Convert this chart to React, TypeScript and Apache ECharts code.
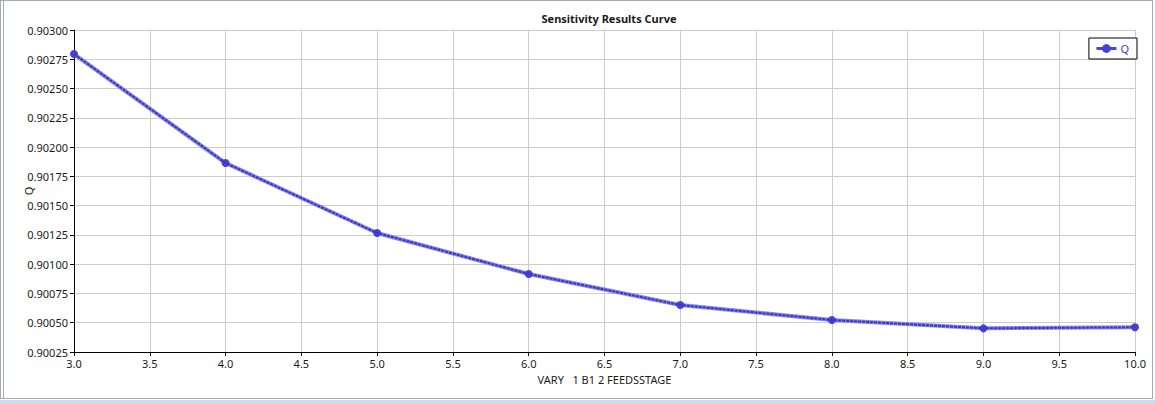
import React, { useEffect, useRef } from "react";
import * as echarts from "echarts";

const feedStages = [3, 4, 5, 6, 7, 8, 9, 10];
const qValues = [0.902795, 0.901864, 0.901266, 0.900916, 0.900651, 0.900523, 0.900452, 0.900461];
const titleText = "Sensitivity Results Curve";
const xName = "VARY   1 B1 2 FEEDSSTAGE";
const yName = "Q";
const seriesName = "Q";

export default function App() {
  const ref = useRef<HTMLDivElement>(null);
  useEffect(() => {
    if (!ref.current) return;
    const chart = echarts.init(ref.current, null, { renderer: "svg" });
    const font = "'Noto Sans', 'Open Sans', sans-serif";
    const frame = "#a3abb6";
    chart.setOption({
      animation: false,
      backgroundColor: "#ffffff",
      textStyle: { fontFamily: font },
      title: {
        text: titleText,
        left: 604,
        textAlign: "center",
        top: 8,
        textStyle: { fontSize: 11, fontWeight: "bold", color: "#1a1a1a", fontFamily: font },
      },
      legend: {
        data: [seriesName],
        right: 18,
        top: 38,
        orient: "vertical",
        backgroundColor: "#ffffff",
        borderColor: "#000000",
        borderWidth: 1,
        borderRadius: 0,
        padding: [5, 8, 5, 6],
        itemWidth: 20,
        itemHeight: 11,
        itemGap: 4,
        lineStyle: { width: 3, color: "#4848d4" },
        textStyle: { color: "#3a3ad0", fontSize: 11, fontFamily: font, padding: [0, 0, 0, -1] },
      },
      grid: { left: 74, right: 20, top: 30, bottom: 52, containLabel: false },
      xAxis: {
        type: "value",
        min: 3,
        max: 10,
        interval: 0.5,
        name: xName,
        nameLocation: "middle",
        nameGap: 22,
        nameTextStyle: { fontSize: 11, color: "#1a1a1a", fontFamily: font },
        axisLine: { show: true, lineStyle: { color: "#000000", width: 1 } },
        axisTick: { show: true, length: 4, lineStyle: { color: "#000000" } },
        axisLabel: {
          fontSize: 11,
          color: "#1a1a1a",
          margin: 6,
          formatter: (v: number) => v.toFixed(1),
        },
        splitLine: { show: true, lineStyle: { color: "#cccccc", width: 1 } },
      },
      yAxis: {
        type: "value",
        min: 0.90025,
        max: 0.903,
        interval: 0.00025,
        name: yName,
        nameLocation: "middle",
        nameGap: 40,
        nameMoveOverlap: false,
        nameRotate: 90,
        nameTextStyle: { fontSize: 11, color: "#1a1a1a", fontFamily: font },
        axisLine: { show: true, lineStyle: { color: "#000000", width: 1 } },
        axisTick: { show: true, length: 4, lineStyle: { color: "#000000" } },
        axisLabel: {
          fontSize: 11,
          color: "#1a1a1a",
          margin: 6,
          formatter: (v: number) => v.toFixed(5),
        },
        splitLine: { show: true, lineStyle: { color: "#cccccc", width: 1 } },
      },
      series: [
        {
          name: seriesName,
          type: "line",
          data: feedStages.map((x, i) => [x, qValues[i]]),
          symbol: "circle",
          symbolSize: 8,
          showSymbol: true,
          itemStyle: { color: "#4444d2" },
          lineStyle: { color: "#8888e4", width: 4 },
          z: 2,
        },
        {
          name: seriesName + "_",
          type: "line",
          data: feedStages.map((x, i) => [x, qValues[i]]),
          symbol: "none",
          lineStyle: { color: "#3636cc", width: 2, type: [3, 1] },
          z: 3,
          tooltip: { show: false },
        },
      ],
      graphic: [
        { type: "line", shape: { x1: 0, y1: 0.5, x2: 1153, y2: 0.5 }, style: { stroke: frame, lineWidth: 1 } },
        { type: "line", shape: { x1: 0.5, y1: 0, x2: 0.5, y2: 399 }, style: { stroke: frame, lineWidth: 1 } },
        { type: "line", shape: { x1: 3.5, y1: 0, x2: 3.5, y2: 398 }, style: { stroke: frame, lineWidth: 1 } },
        { type: "line", shape: { x1: 0, y1: 398.5, x2: 1153, y2: 398.5 }, style: { stroke: frame, lineWidth: 1 } },
        { type: "line", shape: { x1: 1152.5, y1: 0, x2: 1152.5, y2: 399 }, style: { stroke: frame, lineWidth: 1 } },
        { type: "rect", shape: { x: 0, y: 400, width: 1155, height: 4 }, style: { fill: "#c9dcf0" } },
      ],
    });
    return () => chart.dispose();
  }, []);
  return (
    <div
      ref={ref}
      style={{ position: "absolute", left: 0, top: 0, width: 1155, height: 404 }}
    />
  );
}
